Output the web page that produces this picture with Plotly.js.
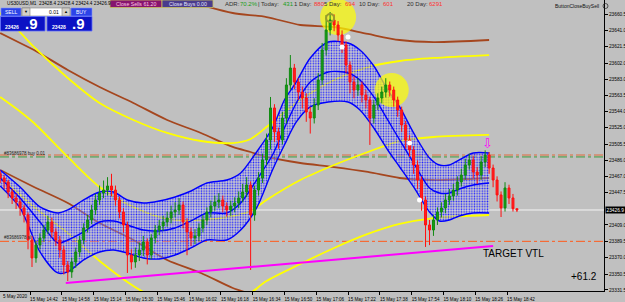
<!DOCTYPE html>
<html><head><meta charset="utf-8">
<script src="https://cdn.plot.ly/plotly-3.0.1.min.js"></script>
<style>html,body{margin:0;padding:0;background:#c0c0c0;overflow:hidden}#chart{width:625px;height:302px}</style>
</head><body><div id="chart"></div>
<script>
const DAY = '2020-05-15 ';
const candleStart = '14:27';      // first bar, bars every 2 minutes
const candleStepMin = 2;
const opens = [23470.0,23465.0,23460.3,23448.3,23441.2,23436.4,23429.3,23420.9,23391.1,23369.7,
23385.2,23393.5,23403.0,23412.6,23400.7,23391.1,23379.2,23361.3,23353.0,23364.9,
23376.8,23391.1,23405.4,23415.0,23426.9,23438.8,23447.1,23450.7,23455.5,23450.7,
23438.8,23424.5,23409.0,23373.2,23364.9,23373.2,23379.2,23388.7,23373.2,23393.5,
23403.0,23407.8,23412.6,23417.3,23424.5,23426.9,23432.8,23412.6,23400.7,23393.5,
23395.9,23405.4,23415.0,23424.5,23431.6,23436.4,23438.8,23431.6,23426.9,23431.6,
23435.2,23441.2,23448.3,23456.7,23420.9,23450.7,23465.0,23486.5,23510.3,23548.5,
23519.9,23510.3,23536.5,23575.9,23596.1,23579.4,23567.5,23560.4,23543.7,23536.5,
23552.0,23581.8,23617.6,23641.4,23653.4,23647.4,23635.5,23623.6,23599.7,23579.4,
23569.9,23575.9,23564.0,23558.0,23536.5,23552.0,23560.4,23567.5,23575.9,23569.9,
23558.0,23546.1,23528.2,23510.3,23498.4,23480.5,23462.6,23438.8,23409.0,23403.0,
23415.0,23424.5,23429.3,23438.8,23443.6,23450.7,23460.3,23468.6,23480.5,23486.5,
23472.2,23468.6,23484.1,23492.4,23476.9,23462.6,23444.8,23429.3,23453.1,23441.2,
23428.4];
const highs = [23474.0,23468.0,23463.0,23452.0,23446.0,23440.0,23433.0,23424.0,23396.0,23390.0,
23399.0,23409.0,23420.0,23418.0,23405.0,23396.0,23384.0,23366.0,23370.0,23382.0,
23396.0,23411.0,23421.0,23433.0,23446.0,23456.0,23462.0,23466.0,23470.0,23456.0,
23443.0,23429.0,23413.0,23380.0,23382.0,23388.0,23396.0,23393.0,23398.0,23409.0,
23415.0,23420.0,23425.0,23432.0,23436.0,23441.0,23437.0,23417.0,23406.0,23404.0,
23411.0,23421.0,23430.0,23438.0,23444.0,23447.0,23444.0,23436.0,23438.0,23442.0,
23449.0,23458.0,23466.0,23461.0,23456.0,23472.0,23494.0,23518.0,23561.6,23553.0,
23525.0,23544.0,23584.0,23611.6,23601.0,23584.0,23574.0,23566.0,23550.0,23560.0,
23590.0,23626.0,23659.3,23662.9,23660.0,23652.0,23641.0,23628.0,23604.0,23586.0,
23584.0,23580.0,23570.0,23562.0,23558.0,23566.0,23574.0,23584.0,23580.0,23574.0,
23562.0,23550.0,23533.0,23516.0,23503.0,23486.0,23467.0,23443.0,23415.0,23421.0,
23430.0,23436.0,23446.0,23452.0,23458.0,23467.0,23476.0,23488.0,23494.0,23491.0,
23478.0,23491.0,23498.0,23496.0,23481.0,23467.0,23449.0,23460.0,23457.0,23446.0,
23428.4];
const lows = [23459.0,23452.0,23441.0,23434.0,23428.0,23420.0,23412.0,23380.0,23358.9,23364.0,
23380.0,23389.0,23398.0,23394.0,23384.0,23370.0,23350.0,23342.2,23346.0,23358.0,
23371.0,23386.0,23400.0,23410.0,23421.0,23433.0,23441.0,23444.0,23443.0,23432.0,
23417.0,23400.0,23351.8,23356.0,23358.0,23366.0,23372.0,23362.0,23368.0,23387.0,
23397.0,23402.0,23407.0,23411.0,23418.0,23421.0,23405.0,23373.0,23384.0,23386.0,
23390.0,23400.0,23409.0,23418.0,23426.0,23429.0,23424.0,23419.0,23420.0,23424.0,
23429.0,23436.0,23442.0,23355.4,23414.0,23444.0,23459.0,23480.0,23499.0,23508.0,
23500.0,23505.0,23530.0,23570.0,23571.0,23558.0,23548.0,23532.0,23518.0,23530.0,
23546.0,23576.0,23611.0,23635.0,23640.0,23628.0,23614.0,23590.0,23566.0,23560.0,
23563.0,23555.0,23548.0,23504.4,23530.0,23546.0,23554.0,23561.0,23562.0,23550.0,
23538.0,23520.0,23500.0,23490.0,23470.0,23452.0,23426.0,23382.8,23385.0,23396.0,
23409.0,23418.0,23423.0,23433.0,23438.0,23444.0,23455.0,23463.0,23475.0,23465.0,
23458.0,23463.0,23478.0,23470.0,23454.0,23437.0,23418.5,23425.0,23434.0,23425.0,
23424.4];
const closes = [23465.0,23460.3,23448.3,23441.2,23436.4,23429.3,23420.9,23391.1,23369.7,23385.2,
23393.5,23403.0,23412.6,23400.7,23391.1,23379.2,23361.3,23353.0,23364.9,23376.8,
23391.1,23405.4,23415.0,23426.9,23438.8,23447.1,23450.7,23455.5,23450.7,23438.8,
23424.5,23409.0,23373.2,23364.9,23373.2,23379.2,23388.7,23373.2,23393.5,23403.0,
23407.8,23412.6,23417.3,23424.5,23426.9,23432.8,23412.6,23400.7,23393.5,23395.9,
23405.4,23415.0,23424.5,23431.6,23436.4,23438.8,23431.6,23426.9,23431.6,23435.2,
23441.2,23448.3,23456.7,23420.9,23450.7,23465.0,23486.5,23510.3,23548.5,23519.9,
23510.3,23536.5,23575.9,23596.1,23579.4,23567.5,23560.4,23543.7,23536.5,23552.0,
23581.8,23617.6,23641.4,23653.4,23647.4,23635.5,23623.6,23599.7,23579.4,23569.9,
23575.9,23564.0,23558.0,23536.5,23552.0,23560.4,23567.5,23575.9,23569.9,23558.0,
23546.1,23528.2,23510.3,23498.4,23480.5,23462.6,23438.8,23409.0,23403.0,23415.0,
23424.5,23429.3,23438.8,23443.6,23450.7,23460.3,23468.6,23480.5,23486.5,23472.2,
23468.6,23484.1,23492.4,23476.9,23462.6,23444.8,23429.3,23453.1,23441.2,23428.4,
23426.9];

// envelope band (upper / middle / lower)
const bandTimes = ['14:27','14:37','14:47','14:56','15:01','15:09','15:17','15:24','15:31','15:39','15:47','15:55','16:03','16:11','16:21','16:28','16:36','16:44','16:50','16:56','17:03','17:12','17:22','17:28','17:35','17:42','17:48','17:55','18:03','18:08','18:13','18:18','18:25','18:33'];
const bandUpper = [23474.6,23454.3,23430.5,23423.3,23426.9,23438.8,23448.3,23448.3,23438.8,23435.2,23437.6,23442.4,23449.5,23459.1,23462.6,23471.0,23496.0,23524.6,23558.0,23579.5,23608.1,23627.1,23625.9,23617.6,23598.5,23569.9,23549.7,23518.7,23488.9,23480.5,23480.5,23486.5,23494.8,23494.8];
const bandMiddle = [23465.0,23441.2,23412.6,23387.5,23391.1,23400.7,23412.6,23413.8,23409.0,23403.0,23401.8,23405.4,23413.8,23423.3,23423.3,23435.2,23462.6,23492.4,23524.6,23554.4,23579.5,23591.4,23590.2,23581.8,23561.6,23534.2,23510.3,23482.9,23453.1,23447.1,23447.1,23451.9,23456.7,23459.1];
const bandLower = [23455.5,23429.3,23376.8,23351.8,23353.0,23367.3,23376.8,23379.2,23375.6,23369.7,23368.5,23373.2,23381.6,23391.1,23391.1,23403.0,23429.3,23474.6,23504.4,23531.8,23549.7,23555.6,23555.6,23546.1,23524.6,23498.4,23478.1,23454.3,23424.5,23413.8,23415.0,23419.7,23423.3,23423.3];

// moving-average style lines
const maTimes = ['14:27','14:36','14:44','15:01','15:17','15:34','15:51','16:08','16:24','16:33','16:41','16:58','17:15','17:32','17:48','18:05','18:33'];
const yellowTop = [23661.7,23641.4,23621.2,23584.2,23554.4,23534.2,23518.7,23509.1,23506.7,23511.5,23525.8,23558.0,23581.8,23597.3,23604.5,23608.1,23611.6];
const yellowMid = [23561.6,23546.1,23530.6,23490.1,23454.3,23430.5,23416.2,23415.0,23419.7,23425.7,23438.8,23462.6,23480.5,23496.0,23509.1,23513.9,23516.3];
const brownMid  = [23637.9,23627.1,23617.6,23593.8,23573.5,23554.4,23534.2,23518.7,23502.0,23496.0,23490.1,23482.9,23478.1,23472.2,23465.0,23462.6,23465.0];
const yellowLowTimes = ['14:27','14:36','14:44','15:01','15:17','15:34','15:51'];
const yellowLow = [23465.0,23447.1,23430.5,23399.5,23366.1,23336.3,23313.6];
const yellowRiseTimes = ['16:24','16:33','16:41','16:58','17:15','17:32','17:48','18:05','18:33'];
const yellowRise = [23316.0,23327.9,23342.2,23362.5,23381.6,23398.3,23410.2,23417.3,23420.9];
const brownTopTimes = ['16:03','16:10','16:24','16:41','16:58','17:15','17:32','17:48','18:05','18:33'];
const brownTop = [23674.8,23670.0,23661.7,23656.9,23647.4,23645.0,23636.7,23629.5,23627.1,23629.5];
const brownLowTimes = ['14:27','14:44','15:01','15:17','15:34','15:51','16:08','16:24','16:33','16:41'];
const brownLow = [23474.6,23454.3,23435.2,23411.4,23391.1,23367.3,23351.8,23333.9,23326.8,23319.6];

// levels & drawings
const orderLevel = 23492.4, orderLevel2 = 23490.1, bidLevel = 23426.9, slLevel = 23389.5;
const trendTimes = ['15:00','18:35'];
const trendValues = [23339.9, 23384.0];
const circleTimes = ['17:17','17:44'];
const circleValues = [23656.9, 23569.9];
const dotTimes = ['17:19','17:22','17:53','17:58'];
const dotValues = [23621.2, 23633.1, 23506.7, 23438.8];

// axis labels
const yTickVals = [23660.5,23641.0,23621.5,23602.0,23583.0,23563.5,23544.0,23525.0,23505.5,23486.0,23467.0,23447.5,23409.0,23389.5,23370.0,23350.5,23331.5];
const yTickText = ['23660.5','23641.0','23621.5','23602.0','23583.0','23563.5','23544.0','23525.0','23505.5','23486.0','23467.0','23447.5','23409.0','23389.5','23370.0','23350.5','23331.5'];
const xTickTimes = ['14:42','14:58','15:14','15:30','15:46','16:02','16:18','16:34','16:50','17:06','17:22','17:38','17:54','18:10','18:26','18:42'];

const T = t => DAY + t;
function addMin(hhmm, k){const [h,m]=hhmm.split(':').map(Number);const tot=h*60+m+k;return String(Math.floor(tot/60)).padStart(2,'0')+':'+String(tot%60).padStart(2,'0');}
const candleTimes = closes.map((_,i)=>T(addMin(candleStart,i*candleStepMin)));

const W=604, H=291;
const PX = x => x/W, PY = y => 1 - y/H;
const F = 'Liberation Sans, Arial, sans-serif';
const XR = [T('14:26:54'), T('19:30:48')];
const YR = [23330.3, 23677.2];

const line = (times, vals, color, width) => ({type:'scatter', mode:'lines', x:times.map(T), y:vals, line:{color, width, shape:'spline', smoothing:0.8}, hoverinfo:'skip'});

const traces = [
  line(brownLowTimes, brownLow, '#a5461e', 1.8),
  line(maTimes, brownMid, '#a5461e', 1.8),
  line(brownTopTimes, brownTop, '#a5461e', 1.8),
  line(maTimes, yellowTop, '#ffff00', 1.8),
  line(maTimes, yellowMid, '#ffff00', 1.8),
  line(yellowLowTimes, yellowLow, '#ffff00', 1.8),
  line(yellowRiseTimes, yellowRise, '#ffff00', 1.8),
  line(bandTimes, bandLower, '#0000ff', 1.4),
  Object.assign(line(bandTimes, bandUpper, '#0000ff', 1.4), {fill:'tonexty', fillcolor:'rgba(215,215,235,0.3)',
     fillpattern:{shape:'.', size:2.6, solidity:0.3, fgcolor:'#2424ff', bgcolor:'rgba(222,222,240,0.3)'}}),
  line(bandTimes, bandMiddle, '#0000ff', 1.4),
  {type:'scatter', mode:'markers', x:circleTimes.map(T), y:circleValues, marker:{size:[36,34], color:'#ffff00', line:{width:0}}, hoverinfo:'skip'},
  // overlay subplot so the candles sit above the band fill
  {type:'candlestick', xaxis:'x2', yaxis:'y2', x:candleTimes, open:opens, high:highs, low:lows, close:closes,
     increasing:{line:{color:'#118a11', width:1}, fillcolor:'#14a014'},
     decreasing:{line:{color:'#ff1010', width:1}, fillcolor:'#ff2020'}, whiskerwidth:0, hoverinfo:'skip'},
  {type:'scatter', xaxis:'x2', yaxis:'y2', mode:'lines', x:trendTimes.map(T), y:trendValues, line:{color:'#ff00ff', width:2}, hoverinfo:'skip'},
  {type:'scatter', xaxis:'x2', yaxis:'y2', mode:'markers', x:[T('17:13')], y:[23655.7], marker:{size:8, color:'rgba(0,0,0,0)', line:{color:'#9a9a30', width:2}}, hoverinfo:'skip'},
  {type:'scatter', xaxis:'x2', yaxis:'y2', mode:'markers', x:dotTimes.map(T), y:dotValues, marker:{size:5, color:'#ffffff', line:{width:0}}, hoverinfo:'skip'}
];

const shapes = [
  {type:'line', xref:'paper', x0:0, x1:1, yref:'y', y0:orderLevel, y1:orderLevel, line:{color:'#e06a3a', width:1, dash:'dashdot'}, layer:'below'},
  {type:'line', xref:'paper', x0:0, x1:1, yref:'y', y0:orderLevel2, y1:orderLevel2, line:{color:'#3a9a3a', width:1, dash:'dashdot'}, layer:'below'},
  {type:'line', xref:'paper', x0:0, x1:1, yref:'y', y0:slLevel, y1:slLevel, line:{color:'#ff5a1a', width:1, dash:'dashdot'}, layer:'below'},
  {type:'line', xref:'paper', x0:0, x1:1, yref:'y', y0:bidLevel, y1:bidLevel, line:{color:'#f4f4f4', width:1}, layer:'below'},
  {type:'rect', xref:'paper', yref:'paper', x0:PX(110), x1:PX(162), y0:PY(0), y1:PY(7.5), fillcolor:'#86146e', line:{color:'#c8c060', width:0.8}},
  {type:'rect', xref:'paper', yref:'paper', x0:PX(162), x1:PX(213), y0:PY(0), y1:PY(7.5), fillcolor:'#4a3c8c', line:{color:'#c8c060', width:0.8}},
  {type:'rect', xref:'paper', yref:'paper', x0:PX(1), x1:PX(21), y0:PY(8), y1:PY(16), fillcolor:'#2c44e8', line:{color:'#8090ff', width:0.6}},
  {type:'rect', xref:'paper', yref:'paper', x0:PX(22), x1:PX(70), y0:PY(8), y1:PY(16), fillcolor:'#ffffff', line:{color:'#808080', width:0.6}},
  {type:'rect', xref:'paper', yref:'paper', x0:PX(22), x1:PX(30), y0:PY(8), y1:PY(16), fillcolor:'#d4d0c8', line:{color:'#808080', width:0.6}},
  {type:'rect', xref:'paper', yref:'paper', x0:PX(62), x1:PX(70), y0:PY(8), y1:PY(16), fillcolor:'#d4d0c8', line:{color:'#808080', width:0.6}},
  {type:'rect', xref:'paper', yref:'paper', x0:PX(71), x1:PX(92), y0:PY(8), y1:PY(16), fillcolor:'#2c44e8', line:{color:'#8090ff', width:0.6}},
  {type:'rect', xref:'paper', yref:'paper', x0:PX(0.5), x1:PX(45), y0:PY(16.5), y1:PY(31), fillcolor:'#0c12c4', line:{color:'#6070ff', width:0.8}},
  {type:'rect', xref:'paper', yref:'paper', x0:PX(47), x1:PX(92), y0:PY(16.5), y1:PY(31), fillcolor:'#0c12c4', line:{color:'#6070ff', width:0.8}},
  {type:'circle', xref:'paper', yref:'paper', x0:PX(603), x1:PX(608), y0:PY(3.5), y1:PY(8.5), line:{color:'#202020', width:0.7}}
];

const ann = (text, x, y, size, color, anchor, extra) => Object.assign({text, xref:'paper', yref:'paper', x:PX(x), y:PY(y), xanchor:anchor||'left', yanchor:'middle', showarrow:false, font:{family:F, size, color}}, extra||{});
const annotations = [
  ann('US30USD,M1  23428.4 23428.4 23424.4 23426.9', 5, 4, 4.7, '#000000'),
  ann('Close Sells 61.20', 136, 3.8, 5.2, '#ffc4e4', 'center'),
  ann('Close Buys 0.00', 187.5, 3.8, 5.2, '#e4e4ff', 'center'),
  ann('ADR:', 223, 4, 6, '#303030'), ann('70.2%', 238, 4, 6, '#169e16'),
  ann('| Today:', 256, 4, 6, '#303030'), ann('431', 281, 4, 6, '#169e16'),
  ann('1 Day:', 292, 4, 6, '#303030'), ann('880', 312, 4, 6, '#ff3030'),
  ann('5 Day:', 322, 4, 6, '#303030'), ann('694', 343, 4, 6, '#ff3030'),
  ann('10 Day:', 357, 4, 6, '#303030'), ann('601', 381, 4, 6, '#ff3030'),
  ann('20 Day:', 405, 4, 6, '#303030'), ann('6291', 427, 4, 6, '#ff3030'),
  ann('ButtonCloseBuySell', 601, 6, 5, '#101010', 'right'),
  ann('SELL', 11, 12, 5, '#ffffff', 'center'), ann('BUY', 81.5, 12, 5, '#ffffff', 'center'),
  ann('▼', 26, 12, 4, '#000000', 'center'), ann('▲', 66, 12, 4, '#000000', 'center'),
  ann('0.01', 54, 12, 5, '#000000', 'center'),
  ann('<b>23426</b>', 3, 27, 5, '#ffffff'), ann('<b>.9</b>', 23, 23.5, 15, '#ffffff'),
  ann('<b>23428</b>', 50, 27, 5, '#ffffff'), ann('<b>.9</b>', 70, 23.5, 15, '#ffffff'),
  ann('#83686978 buy 0.01', 2, 153, 4.5, '#202020'),
  ann('#83686978 sl', 2, 237, 4.5, '#202020'),
  ann('TARGET VTL', 481, 253, 10, '#000000'),
  ann('+61.2', 569, 276, 10, '#000000'),
  ann('5 May 2020', 0.5, 296, 4.6, '#000000'),
  ann('⇩', 487, 143, 13, '#ff00ff', 'center', {font:{family:'DejaVu Sans', size:13, color:'#ff00ff'}}),
  {text:'23426.9', xref:'paper', x:1, xanchor:'left', xshift:0.5, yref:'y', y:bidLevel, yanchor:'middle', showarrow:false,
   bgcolor:'#000000', borderpad:0.5, font:{family:F, size:4.8, color:'#ffffff'}}
];

const layout = {
  width:625, height:302, margin:{l:0, r:21, t:0, b:11, pad:0},
  paper_bgcolor:'#c0c0c0', plot_bgcolor:'#c0c0c0', showlegend:false, hovermode:false,
  xaxis:{type:'date', range:XR, showgrid:false, zeroline:false,
    showline:true, linecolor:'#000000', linewidth:1, ticks:'outside', ticklen:3, tickcolor:'#000000',
    tickvals:xTickTimes.map(T), ticktext:xTickTimes.map(t=>'15 May '+t), ticklabelshift:14,
    tickfont:{family:F, size:4.6, color:'#000000'}, rangeslider:{visible:false}, fixedrange:true},
  yaxis:{side:'right', range:YR, showgrid:false, zeroline:false,
    showline:true, linecolor:'#000000', linewidth:1, ticks:'outside', ticklen:3, tickcolor:'#000000',
    tickvals:yTickVals, ticktext:yTickText, tickfont:{family:F, size:4.8, color:'#000000'}, fixedrange:true},
  xaxis2:{type:'date', range:XR, overlaying:'x', anchor:'y2', visible:false, showgrid:false, zeroline:false, rangeslider:{visible:false}, fixedrange:true},
  yaxis2:{range:YR, overlaying:'y', anchor:'x2', side:'right', visible:false, showgrid:false, zeroline:false, fixedrange:true},
  shapes, annotations
};
Plotly.newPlot('chart', traces, layout, {staticPlot:true, displayModeBar:false});
</script></body></html>
